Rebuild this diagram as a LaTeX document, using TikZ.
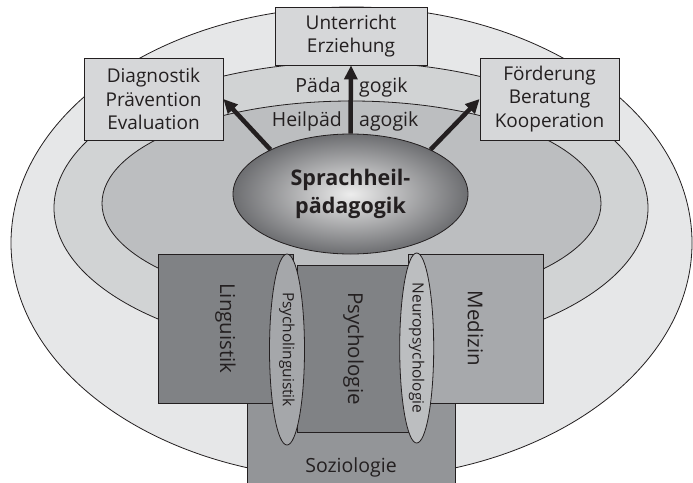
\documentclass[tikz,border=0pt]{standalone}
\usepackage{fontspec}
\setmainfont{Open Sans}
\usetikzlibrary{arrows.meta,shapes.geometric}
\definecolor{ink}{HTML}{231F20}
\definecolor{ringA}{HTML}{E6E7E8}
\definecolor{ringB}{HTML}{D1D3D4}
\definecolor{ringC}{HTML}{BCBEC0}
\definecolor{topfill}{HTML}{D6D7D9}
\definecolor{dark}{HTML}{808285}
\definecolor{mid}{HTML}{939598}
\definecolor{light}{HTML}{A7A9AC}
\definecolor{ellA}{HTML}{A5A7AA}
\definecolor{ellB}{HTML}{BCBEC0}
\definecolor{coreout}{HTML}{6D6E71}
\definecolor{corein}{HTML}{EDEDED}
\tikzset{
  outline/.style={draw=ink, line width=0.8pt},
  topbox/.style={outline, fill=topfill, rectangle, inner sep=0pt, align=center, text=ink,
    font=\fontsize{19}{23.5}\selectfont},
  lowbox/.style={outline, rectangle, inner sep=0pt, text=ink, font=\fontsize{20.5}{22}\selectfont},
  linkell/.style={outline, ellipse, inner sep=0pt, text=ink, font=\fontsize{15.5}{16}\selectfont},
  plain/.style={inner sep=0pt, text=ink, font=\fontsize{19.5}{22}\selectfont},
  bigarrow/.style={draw=ink, line width=4.5pt, -{Triangle[length=14pt,width=13pt]}},
}
\begin{document}
\begin{tikzpicture}[x=1pt,y=-1pt]
\useasboundingbox (0,0) rectangle (693,482);
\clip (0,0) rectangle (693,482);
\fill[white] (0,0) rectangle (693,482);
% rings
\draw[outline, fill=ringA] (351.5,243) ellipse [x radius=340.5, y radius=236];
\draw[outline, fill=ringB] (351,208) ellipse [x radius=297, y radius=146];
\draw[outline, fill=ringC] (351.5,203.4) ellipse [x radius=249.5, y radius=102.4];
% ring labels
\node[plain, anchor=base east] (pa) at (341,92.5) {Päda};
\node[plain, anchor=base west] (pb) at (359,92.5) {gogik};
\node[plain, anchor=base east] (ha) at (342,126) {Heilpäd};
\node[plain, anchor=base west] (hb) at (359,126) {agogik};
% top boxes
\node[topbox, minimum width=152pt, minimum height=58pt] (unt) at (351,36) {Unterricht\\Erziehung};
\node[topbox, minimum width=139pt, minimum height=82pt] (diag) at (153.5,99) {Diagnostik\\Prävention\\Evaluation};
\node[topbox, minimum width=139pt, minimum height=82pt] (foe) at (549.5,99) {Förderung\\Beratung\\Kooperation};
% core
\node[outline, ellipse, inner sep=0pt, minimum width=235pt, minimum height=120pt,
      inner color=corein, outer color=coreout, align=center, text=ink,
      font=\fontsize{21.5}{28.5}\selectfont\bfseries] (sp) at (350.5,194) {Sprachheil-\\pädagogik};
% arrows
\draw[bigarrow] (sp.north) -- (unt.south);
\draw[bigarrow] (sp.151) -- (diag.east);
\draw[bigarrow] (sp.29) -- (foe.west);
% lower boxes
\node[lowbox, fill=mid, minimum width=208pt, minimum height=130pt, anchor=north west] (soz) at (247,380) {};
\node[plain] (sozt) at (351,467) {Soziologie};
\node[lowbox, fill=dark, rotate=-90, minimum width=149pt, minimum height=135pt] (ling) at (225.5,328.5) {Linguistik};
\node[lowbox, fill=light, rotate=-90, minimum width=149pt, minimum height=135pt] (med) at (475.5,328.5) {Medizin};
\node[lowbox, fill=dark, rotate=-90, minimum width=167pt, minimum height=113pt] (psy) at (353.5,348.5) {Psychologie};
% link ellipses
\node[linkell, fill=ellA, rotate=-90, minimum width=191pt, minimum height=35pt] (pl) at (287,349.5) {Psycholinguistik};
\node[linkell, fill=ellB, rotate=-90, minimum width=190pt, minimum height=34pt] (np) at (416.7,348) {Neuropsychologie};
\end{tikzpicture}
\end{document}
